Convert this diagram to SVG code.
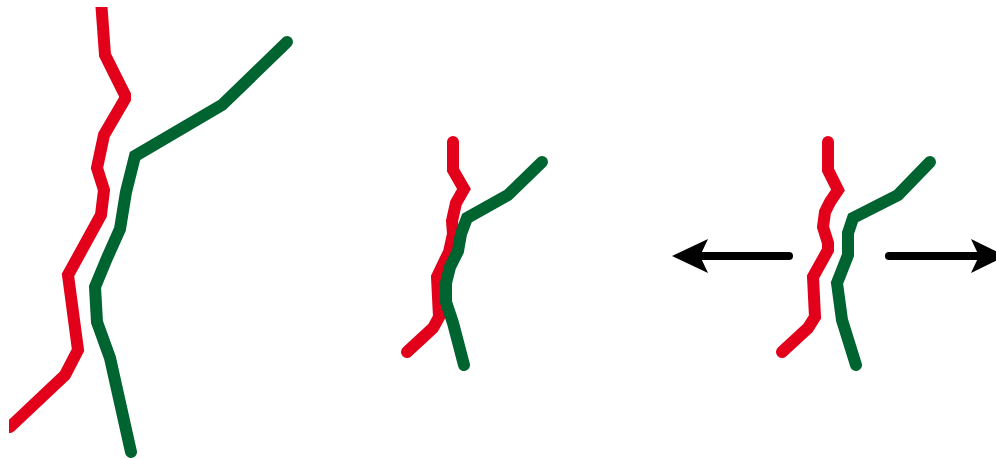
<svg xmlns="http://www.w3.org/2000/svg" width="996" height="459" viewBox="0 0 996 459">
<style>
.l{fill:none;stroke-linecap:round;stroke-linejoin:miter;stroke-width:12}
.r{stroke:#E2001A}
.g{stroke:#006430}
.a{fill:none;stroke:#000;stroke-width:8;stroke-linecap:round}
</style>
<defs>
<clipPath id="c1"><rect x="9" y="7" width="987" height="452"/></clipPath>
</defs>
<g id="left" clip-path="url(#c1)">
<polyline class="l r" points="101,0 105,55 125,95 125,99 104,135 97,168 104,190 101,215 68,275 78,350 65,375 10,427"/>
<polyline class="l g" points="287,42 222,105 135,156 126,192 120,229 107,258 95,287 97,322 110,358 131,452"/>
</g>
<g id="middle">
<polyline class="l r" points="453,142 453,170 464,189 456,203 452,221 453,234 449,252 437,277 439,317 433,328 407,352"/>
<polyline class="l g" points="542,162 508,195 467,218 461,234 458,251 450,267 446,283 446,302 453,323 464,365"/>
</g>
<g id="right">
<polyline class="l r" points="828,142 828,170 838,190 830,202 825,212 823,227 828,243 828,250 813,277 815,317 808,328 782,352"/>
<polyline class="l g" points="930,162 898,195 853,218 848,233 848,255 837,283 842,320 856,365"/>
</g>
<g id="connectors">
<line class="a" x1="789" y1="256" x2="700" y2="256"/>
<path d="M672,256 L708,239 L700,256 L708,273 Z" fill="#000"/>
<line class="a" x1="889" y1="256" x2="978" y2="256"/>
<path d="M1006,256 L971,239 L979,256 L971,273 Z" fill="#000"/>
</g>
</svg>
